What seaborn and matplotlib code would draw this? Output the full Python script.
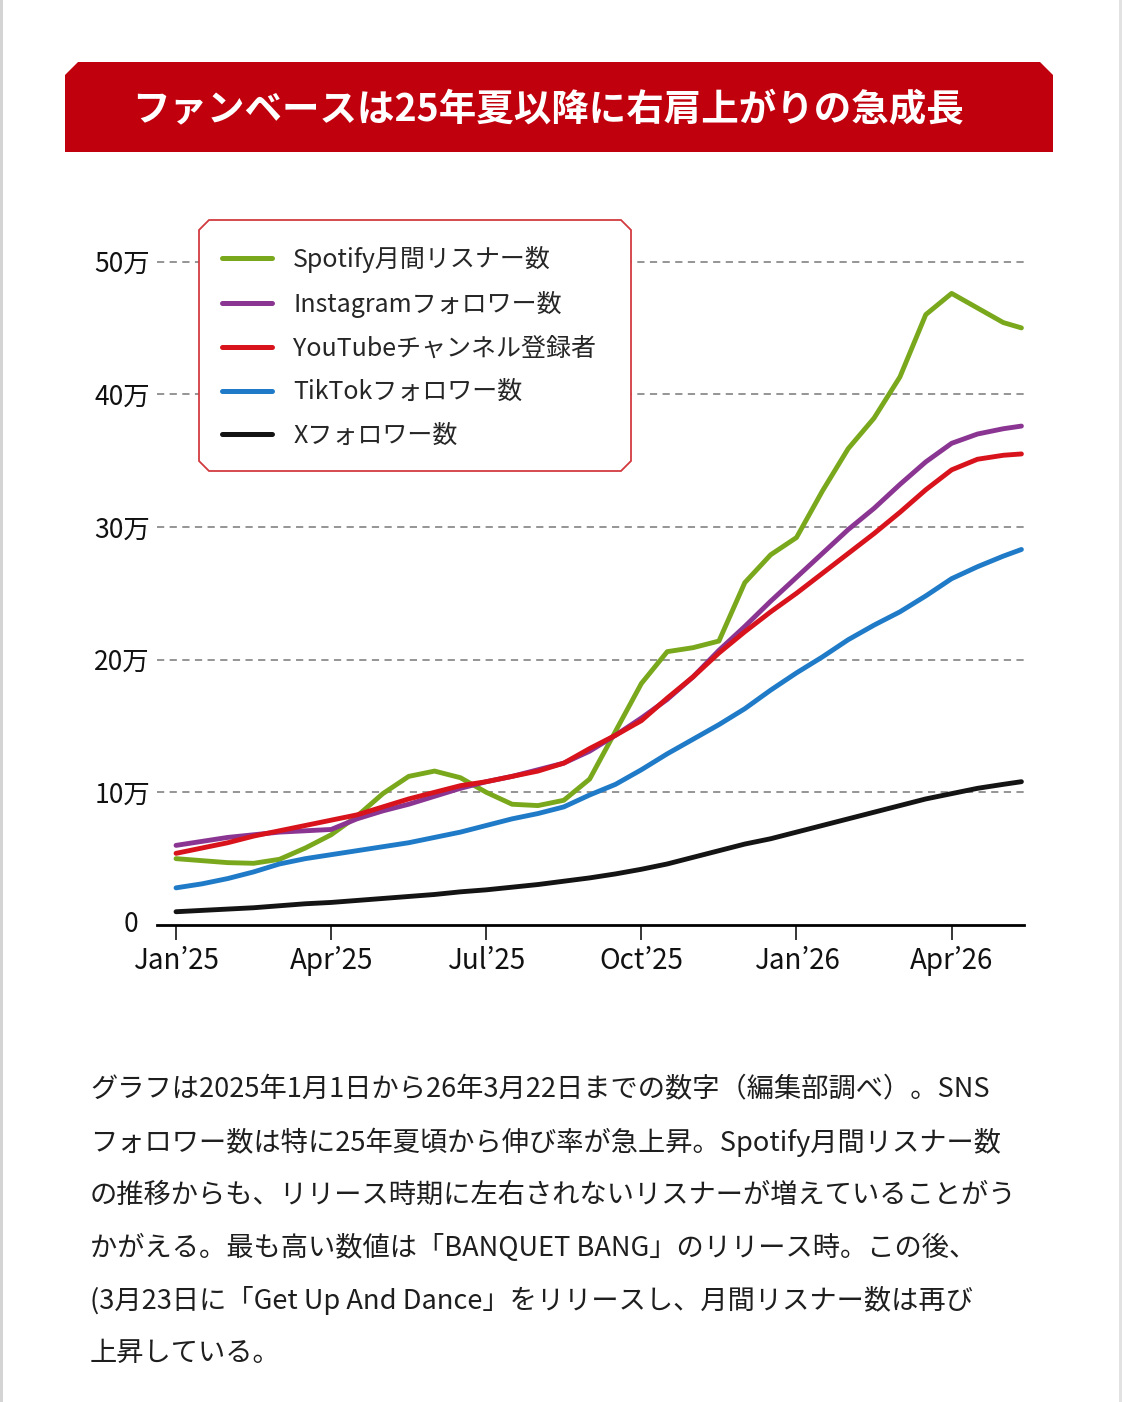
import numpy as np
import pandas as pd
import seaborn as sns
import matplotlib
matplotlib.use("Agg")
import matplotlib.pyplot as plt
from matplotlib.patches import Polygon
from matplotlib.transforms import ScaledTranslation

# ---------------- data ----------------
months = [0, 0.5, 1, 1.5, 2, 2.5, 3, 3.5, 4, 4.5, 5, 5.5, 6, 6.5, 7, 7.5, 8, 8.5,
          9, 9.5, 10, 10.5, 11, 11.5, 12, 12.5, 13, 13.5, 14, 14.5, 15, 15.5, 16, 16.35]

spotify = [5.0, 4.85, 4.7, 4.65, 4.95, 5.8, 6.8, 8.2, 9.9, 11.2, 11.6, 11.1, 10.0, 9.1,
           9.0, 9.4, 11.0, 14.6, 18.2, 20.6, 20.9, 21.4, 25.8, 27.9, 29.2, 32.7, 35.9,
           38.2, 41.3, 46.0, 47.6, 46.5, 45.4, 45.0]
instagram = [6.0, 6.3, 6.6, 6.8, 7.0, 7.1, 7.2, 8.0, 8.6, 9.1, 9.7, 10.3, 10.8, 11.2,
             11.7, 12.2, 13.1, 14.3, 15.6, 17.0, 18.7, 20.7, 22.5, 24.4, 26.2, 28.0,
             29.8, 31.4, 33.2, 34.9, 36.3, 37.0, 37.4, 37.6]
youtube = [5.4, 5.8, 6.2, 6.7, 7.1, 7.5, 7.9, 8.3, 8.9, 9.5, 10.0, 10.5, 10.8, 11.2,
           11.6, 12.2, 13.3, 14.3, 15.4, 17.1, 18.7, 20.5, 22.1, 23.6, 25.0, 26.5,
           28.0, 29.5, 31.1, 32.8, 34.3, 35.1, 35.4, 35.5]
tiktok = [2.8, 3.1, 3.5, 4.0, 4.6, 5.0, 5.3, 5.6, 5.9, 6.2, 6.6, 7.0, 7.5, 8.0, 8.4,
          8.9, 9.8, 10.6, 11.7, 12.9, 14.0, 15.1, 16.3, 17.7, 19.0, 20.2, 21.5, 22.6,
          23.6, 24.8, 26.1, 27.0, 27.8, 28.3]
x_followers = [1.0, 1.1, 1.2, 1.3, 1.45, 1.6, 1.7, 1.85, 2.0, 2.15, 2.3, 2.5, 2.65,
               2.85, 3.05, 3.3, 3.55, 3.85, 4.2, 4.6, 5.1, 5.6, 6.1, 6.5, 7.0, 7.5,
               8.0, 8.5, 9.0, 9.5, 9.9, 10.3, 10.6, 10.8]

series_labels = ["Spotify月間リスナー数", "Instagramフォロワー数", "YouTubeチャンネル登録者",
                 "TikTokフォロワー数", "Xフォロワー数"]
series_colors = ["#7aa81c", "#8b3593", "#d8131c", "#1f7bc8", "#141414"]

xtick_pos = [0, 3, 6, 9, 12, 15]
xtick_labels = ["Jan’25", "Apr’25", "Jul’25", "Oct’25", "Jan’26", "Apr’26"]
ytick_pos = [0, 10, 20, 30, 40, 50]
ytick_labels = ["0", "10万", "20万", "30万", "40万", "50万"]

title = "ファンベースは25年夏以降に右肩上がりの急成長"
caption = [
    "グラフは2025年1月1日から26年3月22日までの数字（編集部調べ）。SNS",
    "フォロワー数は特に25年夏頃から伸び率が急上昇。Spotify月間リスナー数",
    "の推移からも、リリース時期に左右されないリスナーが増えていることがう",
    "かがえる。最も高い数値は「BANQUET BANG」のリリース時。この後、",
    "(3月23日に「Get Up And Dance」をリリースし、月間リスナー数は再び",
    "上昇している。",
]

# ---------------- table ----------------
values = [spotify, instagram, youtube, tiktok, x_followers]
df = pd.DataFrame({
    "month": months * len(series_labels),
    "value": sum(values, []),
    "series": sum([[lab] * len(months) for lab in series_labels], []),
})

# ---------------- figure ----------------
W, H = 1122, 1402
sns.set_theme(style="white")
plt.rcParams["font.family"] = ["Noto Sans CJK JP", "DejaVu Sans"]

fig = plt.figure(figsize=(W / 100, H / 100), dpi=100)
fig.patch.set_facecolor("white")


def fx(x):
    return x / W


def fy(y):
    return 1 - y / H


def poly_px(pts, **kw):
    p = Polygon([(fx(a), fy(b)) for a, b in pts], closed=True,
                transform=fig.transFigure, **kw)
    fig.add_artist(p)
    return p


# side edges
poly_px([(0, 0), (3, 0), (3, H), (0, H)], facecolor="#d4d4d4", edgecolor="none", zorder=1)
poly_px([(W - 3, 0), (W, 0), (W, H), (W - 3, H)], facecolor="#e2e2e2", edgecolor="none", zorder=1)

# title banner
c = 13
poly_px([(65, 152), (65, 62 + c), (65 + c, 62), (1053 - c, 62), (1053, 62 + c), (1053, 152)],
        facecolor="#c1000d", edgecolor="none", zorder=2)
fig.text(fx(548), fy(110), title, color="white", fontsize=27, fontweight="bold",
         ha="center", va="center", zorder=6)

# axes
L, R, T, B = 157, 1024, 235, 925
ax = fig.add_axes([fx(L), fy(B), (R - L) / W, (B - T) / H])
ax.set_facecolor("none")

sns.lineplot(data=df, x="month", y="value", hue="series", hue_order=series_labels,
             palette=series_colors, linewidth=3.5, estimator=None, ax=ax)

for i, line in enumerate(ax.lines):
    line.set_solid_capstyle("round")
    line.set_solid_joinstyle("round")
    line.set_zorder(3 + i)

ax.set_xlim(-0.368, 16.4)
ax.set_ylim(0, 52)

for v in ytick_pos[1:]:
    ax.axhline(v, color="#8c8c8c", lw=1.3, ls=(0, (4, 3)), zorder=1)

ax.set_xticks(xtick_pos)
ax.set_xticklabels(xtick_labels)
ax.set_yticks(ytick_pos)
ax.set_yticklabels(ytick_labels)
ax.set_xlabel("")
ax.set_ylabel("")
ax.tick_params(axis="x", bottom=True, direction="out", length=11, width=1.1,
               color="black", pad=4, labelsize=20, labelcolor="#111111")
ax.tick_params(axis="y", left=False, length=0, pad=5, labelsize=19, labelcolor="#111111")

# the "0" label sits a little further left and slightly higher
zero_lbl = ax.get_yticklabels()[0]
zero_lbl.set_transform(zero_lbl.get_transform() +
                       ScaledTranslation(-0.12, 0.03, fig.dpi_scale_trans))

for s in ["top", "right", "left"]:
    ax.spines[s].set_visible(False)
ax.spines["bottom"].set_color("black")
ax.spines["bottom"].set_linewidth(2.0)
ax.spines["bottom"].set_zorder(10)

# legend
leg = ax.get_legend()
handles = list(leg.legend_handles)
labels = [t.get_text() for t in leg.get_texts()]
leg.remove()
for h in handles:
    h.set_linewidth(3.6)
    h.set_solid_capstyle("round")

lc = 10
poly_px([(199 + lc, 220), (631 - lc, 220), (631, 220 + lc), (631, 471 - lc),
         (631 - lc, 471), (199 + lc, 471), (199, 471 - lc), (199, 220 + lc)],
        facecolor="white", edgecolor="#d23a40", lw=1.3, zorder=3)

fig.legend(handles, labels, loc="upper left", bbox_to_anchor=(fx(222), fy(246)),
           bbox_transform=fig.transFigure, frameon=False, fontsize=18,
           handlelength=2.0, handletextpad=0.85, labelspacing=0.71,
           borderpad=0, borderaxespad=0)

# caption
for i, line in enumerate(caption):
    fig.text(fx(90), fy(1090 + i * 52.6), line, fontsize=19.6, color="#1e1e1e",
             ha="left", va="center")

fig.savefig("out.png", dpi=100)
